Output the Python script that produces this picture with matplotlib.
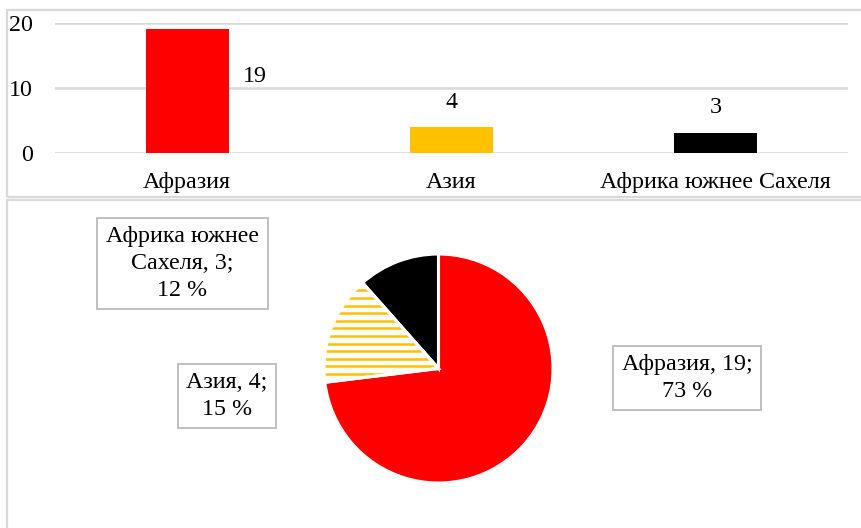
import numpy as np
import matplotlib
matplotlib.use("Agg")
import matplotlib.pyplot as plt
from matplotlib.patches import Rectangle, Wedge

# -------------------------
# data
# -------------------------
regions = ["Афразия", "Азия", "Африка южнее Сахеля"]
counts = [19, 4, 3]
bar_colors = ["#FF0000", "#FFC000", "#000000"]
y_ticks = [0, 10, 20]

pie_labels = ["Афразия, 19;\n73 %", "Азия, 4;\n15 %", "Африка южнее\nСахеля, 3;\n12 %"]

# label spots for bar values (Excel put them a bit off the bars)
bar_label_pos = [(0.255, 11.7), (1.0, 7.65), (2.0, 6.9)]

W, H = 861, 528
FONT = "Liberation Serif"
FS = 17.3
GRID = "#D9D9D9"
BOX = "#BFBFBF"

plt.rcParams['font.family'] = [FONT, 'DejaVu Serif']

fig = plt.figure(figsize=(W / 100, H / 100), dpi=100)


def fr(x0, y0, x1, y1):
    # pixel box (top-left origin) -> figure fraction rect
    return [x0 / W, 1 - y1 / H, (x1 - x0) / W, (y1 - y0) / H]


# panel borders
for (x0, y0, x1, y1) in [(7, 10, 880, 197), (7, 200, 880, 560)]:
    fig.patches.append(Rectangle((x0 / W, 1 - y1 / H), (x1 - x0) / W, (y1 - y0) / H,
                                 transform=fig.transFigure, fill=False,
                                 edgecolor=GRID, linewidth=1.6, clip_on=False))

# ---- bar chart ----
ax = fig.add_axes(fr(55, 22.7, 848, 152.7))
x = np.arange(len(regions))
ax.bar(x, counts, width=0.314, color=bar_colors, zorder=3)
ax.set_xlim(-0.5, len(regions) - 0.5)
ax.set_ylim(0, 20)
ax.set_yticks(y_ticks)
ax.set_xticks(x)
ax.set_xticklabels(regions, fontsize=FS)
ax.tick_params(axis='y', length=0, pad=16, labelsize=FS)
ax.tick_params(axis='x', length=0, pad=14)
for s in ax.spines.values():
    s.set_visible(False)
ax.yaxis.grid(True, color=GRID, linewidth=1.8, zorder=0)
ax.set_axisbelow(True)
for (lx, ly), v in zip(bar_label_pos, counts):
    ax.text(lx, ly, str(v), ha='center', va='center', fontsize=FS)

# ---- pie chart ----
cx, cy, r = 438.5, 368.5, 114.5
pax = fig.add_axes(fr(cx - r, cy - r, cx + r, cy + r))
pie_colors = ["#FF0000", "white", "#000000"]
wedges, _ = pax.pie(counts, colors=pie_colors, startangle=90, counterclock=False,
                    wedgeprops=dict(linewidth=0))
pax.set_xlim(-1, 1)
pax.set_ylim(-1, 1)
pax.set_aspect('equal')
pax.axis('off')

# horizontal gold hatch on the Asia slice
step = 7.6 / r
ys = np.arange(-0.048 - 6 * step, 1.0, step)
hl = pax.hlines(ys, -1.05, 0.2, colors="#FFC000", linewidth=1.8, zorder=2)
hl.set_clip_path(wedges[1])

# white separators
for w in wedges:
    pax.add_patch(Wedge(w.center, w.r, w.theta1, w.theta2, facecolor='none',
                        edgecolor='white', linewidth=2.2, zorder=3))

# label boxes
label_boxes = [(613, 346, 761, 410), (178, 364, 276, 428), (97, 218, 268, 309)]
for txt, (x0, y0, x1, y1) in zip(pie_labels, label_boxes):
    fig.patches.append(Rectangle((x0 / W, 1 - y1 / H), (x1 - x0) / W, (y1 - y0) / H,
                                 transform=fig.transFigure, facecolor='white',
                                 edgecolor=BOX, linewidth=1.4))
    fig.text((x0 + x1) / 2 / W, 1 - (y0 + y1) / 2 / H, txt, ha='center', va='center',
             multialignment='center', fontsize=FS, linespacing=1.35)

fig.savefig("out.png", dpi=100)
